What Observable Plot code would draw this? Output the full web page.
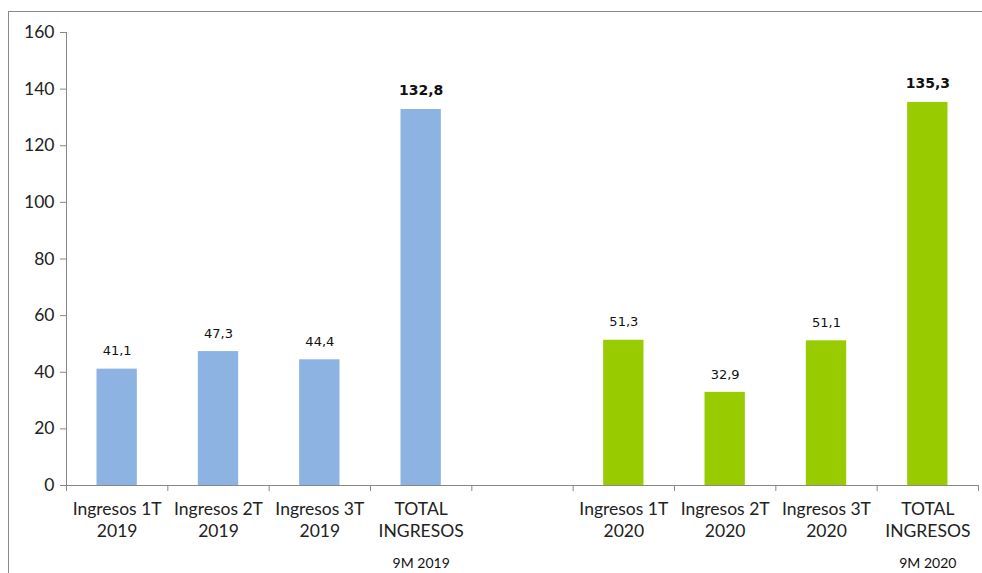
<!DOCTYPE html>
<html>
<head>
<meta charset="utf-8">
<script src="https://cdn.jsdelivr.net/npm/d3@7"></script>
<script src="https://cdn.jsdelivr.net/npm/@observablehq/plot@0.6"></script>
<style>
  html, body { margin: 0; padding: 0; background: #fff; }
  #wrap { position: relative; width: 982px; height: 573px; overflow: hidden; }
  #frame { position: absolute; left: 8px; top: 11px; width: 1200px; height: 800px;
           border-top: 1px solid #8a8a8a; border-left: 1px solid #8a8a8a; pointer-events: none; }
  #chart { position: absolute; left: 0; top: 0; }
</style>
</head>
<body>
<div id="wrap"><div id="chart"></div><div id="frame"></div></div>
<script>
const categories = ["Ingresos 1T\n2019", "Ingresos 2T\n2019", "Ingresos 3T\n2019", "TOTAL\nINGRESOS", "",
                    "Ingresos 1T\n2020", "Ingresos 2T\n2020", "Ingresos 3T\n2020", "TOTAL\nINGRESOS"];
const values = [41.1, 47.3, 44.4, 132.8, null, 51.3, 32.9, 51.1, 135.3];
const groups = ["2019", "2019", "2019", "2019", "", "2020", "2020", "2020", "2020"];
const isTotal = [false, false, false, true, false, false, false, false, true];
const subLabels = ["", "", "", "9M 2019", "", "", "", "", "9M 2020"];
const yTicks = [0, 20, 40, 60, 80, 100, 120, 140, 160];
const groupColors = {"2019": "#8db3e2", "2020": "#99cc00"};

const data = categories.map((c, i) => ({i, cat: c, value: values[i], group: groups[i], total: isTotal[i], sub: subLabels[i]}));
const bars = data.filter(d => d.value != null);
const fmt = v => v.toFixed(1).replace(".", ",");

const chart = Plot.plot({
  width: 982,
  height: 573,
  marginLeft: 66,
  marginRight: 4,
  marginTop: 32,
  marginBottom: 88,
  x: {type: "linear", domain: [0, 9], axis: null},
  y: {domain: [0, 160], axis: null},
  style: {fontFamily: "Lato, sans-serif", background: "transparent"},
  marks: [
    Plot.rectY(bars, {x1: d => d.i, x2: d => d.i + 1, y: "value", insetLeft: 30.5, insetRight: 30.5,
      fill: d => groupColors[d.group]}),
    Plot.axisY({ticks: yTicks, tickSize: 6, tickPadding: 6, stroke: "#888", color: "#222",
      fontSize: 17.5, fontFamily: "Lato, sans-serif", label: null}),
    Plot.axisX({ticks: d3.range(10), tickSize: 6, tickFormat: () => "", stroke: "#888", label: null}),
    Plot.ruleX([0], {stroke: "#888"}),
    Plot.ruleY([0], {stroke: "#888"}),
    Plot.text(bars.filter(d => !d.total), {x: d => d.i + 0.5, y: "value", text: d => fmt(d.value), dy: -18,
      fontFamily: "DejaVu Sans, Verdana, sans-serif", fontSize: 13, fill: "#111"}),
    Plot.text(bars.filter(d => d.total), {x: d => d.i + 0.5, y: "value", text: d => fmt(d.value), dy: -19,
      fontFamily: "DejaVu Sans, Verdana, sans-serif", fontSize: 14, fontWeight: "bold", fill: "#111"}),
    Plot.text(data, {x: d => d.i + 0.5, y: 0, text: "cat", lineAnchor: "top", dy: 13, lineHeight: 1.3,
      fontSize: 17.5, fontFamily: "Lato, sans-serif", fill: "#222"}),
    Plot.text(data.filter(d => d.sub), {x: d => d.i + 0.5, y: 0, text: "sub", dy: 78,
      fontSize: 14, fontFamily: "Lato, sans-serif", fill: "#111"})
  ]
});
document.getElementById("chart").appendChild(chart);
</script>
</body>
</html>
